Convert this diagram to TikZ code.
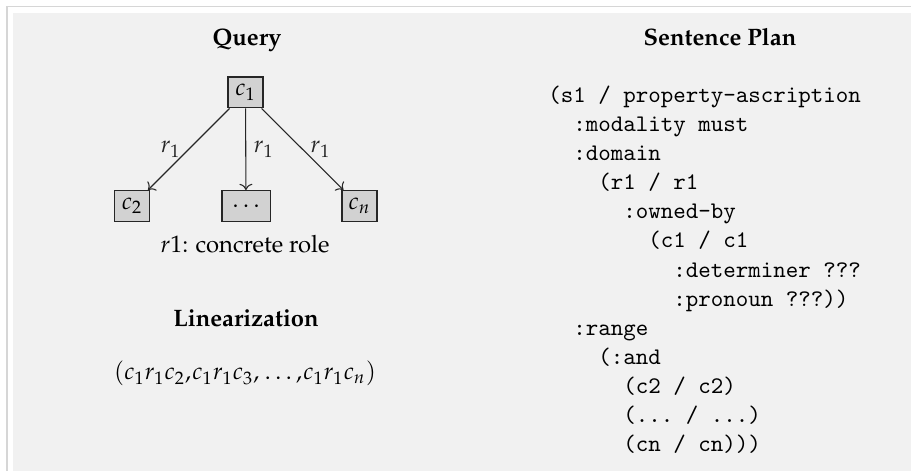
\documentclass[tikz,border=0pt]{standalone}
\usepackage[T1]{fontenc}
\usepackage{mathpazo}
\usetikzlibrary{arrows.meta}

\definecolor{panelgray}{HTML}{F1F1F1}
\definecolor{framegray}{HTML}{D6D6D6}
\definecolor{boxgray}{HTML}{D2D2D2}

\tikzset{
  heading/.style={font=\bfseries, anchor=base, inner sep=0pt},
  conceptbox/.style={draw=black!85, line width=0.45pt, fill=boxgray,
    minimum width=14.7pt, minimum height=13pt, inner sep=2pt},
  rolearrow/.style={->, line width=0.45pt, black!85},
  rolelabel/.style={inner sep=3.2pt, font=\normalsize},
  plaintext/.style={anchor=base, inner sep=0pt},
  codeblock/.style={anchor=base west, inner sep=0pt, align=left,
    font=\fontencoding{OT1}\fontfamily{cmtt}\fontsize{10}{12.25}\selectfont\frenchspacing}
}

\begin{document}
\begin{tikzpicture}[x=0.4202pt, y=-0.4202pt]
  \useasboundingbox (0,0) rectangle (911,471);
  % page background and panel
  \fill[white] (0,0) rectangle (911,471);
  \fill[panelgray] (13,13) rectangle (911,471);
  \draw[framegray, line width=0.6pt] (7,471) -- (7,6.5) -- (911,6.5);

  % ---- Query graph ----
  \node[heading] (query) at (247,46) {Query};

  \node[conceptbox] (c1) at (245.5,92.5) {$c_1$};
  \node[conceptbox] (c2) at (132,206) {$c_2$};
  \node[conceptbox, minimum width=20.2pt] (cdots) at (246,206) {$\dots$};
  \node[conceptbox] (cn) at (359.5,206) {$c_n$};

  \draw[rolearrow] (c1) -- node[rolelabel, left] {$r_1$} (c2);
  \draw[rolearrow] (c1) -- node[rolelabel, right] {$r_1$} (cdots);
  \draw[rolearrow] (c1) -- node[rolelabel, right] {$r_1$} (cn);

  \node[plaintext] (legend) at (245,253) {$r1$: concrete role};

  % ---- Linearization ----
  \node[heading] (lin) at (246,327) {Linearization};
  \node[plaintext] (linseq) at (245,380)
    {$(c_1 r_1 c_2{,}\mkern1mu c_1 r_1 c_3{,}\mkern1mu \dots{,}\mkern1mu c_1 r_1 c_n)$};

  % ---- Sentence plan (last line sits on the anchor's baseline) ----
  \node[heading] (plan) at (720,45.5) {Sentence Plan};
  \node[codeblock] (code) at (548,452) {%
(s1 / property-ascription\\
\phantom{xx}:modality must\\
\phantom{xx}:domain\\
\phantom{xxxx}(r1 / r1\\
\phantom{xxxxxx}:owned-by\\
\phantom{xxxxxxxx}(c1 / c1\\
\phantom{xxxxxxxxxx}:determiner ???\\
\phantom{xxxxxxxxxx}:pronoun ???))\\
\phantom{xx}:range\\
\phantom{xxxx}(:and\\
\phantom{xxxxxx}(c2 / c2)\\
\phantom{xxxxxx}(... / ...)\\
\phantom{xxxxxx}(cn / cn)))};
\end{tikzpicture}
\end{document}
